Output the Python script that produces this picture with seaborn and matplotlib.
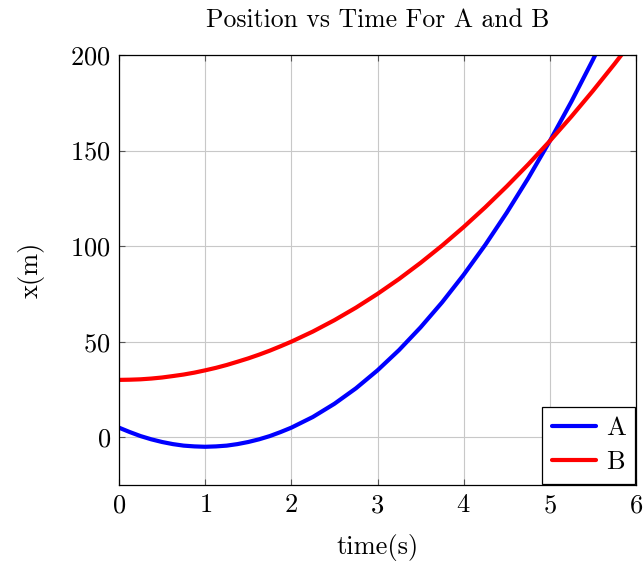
import pandas as pd
import matplotlib
matplotlib.use('Agg')
import matplotlib.pyplot as plt
import seaborn as sns

# Values
time_s = [0, 0.125, 0.25, 0.375, 0.5, 0.625, 0.75, 0.875, 1,
          1.125, 1.25, 1.375, 1.5, 1.625, 1.75, 1.875, 2,
          2.25, 2.5, 2.75, 3, 3.25, 3.5, 3.75, 4,
          4.25, 4.5, 4.75, 5, 5.25, 5.5, 5.75, 6]
pos_a = [5, 2.7, 0.6, -1.1, -2.5, -3.6, -4.4, -4.8, -5,
         -4.8, -4.4, -3.6, -2.5, -1.1, 0.6, 2.7, 5,
         10.6, 17.5, 25.6, 35, 45.6, 57.5, 70.6, 85,
         100.6, 117.5, 135.6, 155, 175.6, 197.5, 220.6, 245]
pos_b = [30, 30.1, 30.3, 30.7, 31.25, 32, 32.8, 33.8, 35,
         36.3, 37.8, 39.5, 41.25, 43.2, 45.3, 47.6, 50,
         55.3, 61.25, 67.8, 75, 82.8, 91.25, 100.3, 110,
         120.3, 131.25, 142.8, 155, 167.8, 181.25, 195.3, 210]
x_ticks = [0, 1, 2, 3, 4, 5, 6]
y_ticks = [0, 50, 100, 150, 200]

df = pd.DataFrame({
    'time': time_s * 2,
    'x': pos_a + pos_b,
    'series': ['A'] * len(time_s) + ['B'] * len(time_s),
})

sns.set_style("whitegrid")
plt.rcParams['font.family'] = ['cmr10', 'DejaVu Serif']
plt.rcParams['mathtext.fontset'] = 'cm'
plt.rcParams['axes.formatter.use_mathtext'] = True
plt.rcParams['text.color'] = 'black'
plt.rcParams['axes.labelcolor'] = 'black'

fig = plt.figure(figsize=(6.44, 5.63), dpi=100)
ax = fig.add_axes([119 / 644, 1 - 485 / 563, 517 / 644, 430 / 563])

sns.lineplot(data=df, x='time', y='x', hue='series',
             palette={'A': '#0000ff', 'B': '#ff0000'}, linewidth=3, ax=ax)

ax.set_xlim(0, 6)
ax.set_ylim(-25, 200)
ax.set_xticks(x_ticks)
ax.set_yticks(y_ticks)
ax.grid(True, color='#c8c8c8', linewidth=0.8)
for s in ax.spines.values():
    s.set_color('black')
    s.set_linewidth(0.9)
ax.tick_params(direction='in', length=4, width=0.8, labelsize=19, color='#555555',
               labelcolor='black', top=True, right=True, bottom=True, left=True, pad=6)

ax.set_title('Position vs Time For A and B', fontsize=18.5, pad=20)
ax.set_xlabel('time(s)', fontsize=19, labelpad=12)
ax.set_ylabel('x(m)', fontsize=19, labelpad=18)

leg = ax.legend(loc='lower right', fontsize=19, fancybox=False, framealpha=1,
                edgecolor='black', handlelength=1.7, borderaxespad=0.05,
                handletextpad=0.35, labelspacing=0.4, borderpad=0.35)
leg.get_frame().set_linewidth(0.9)
leg.set_title(None)

fig.savefig('out.png', dpi=100)
